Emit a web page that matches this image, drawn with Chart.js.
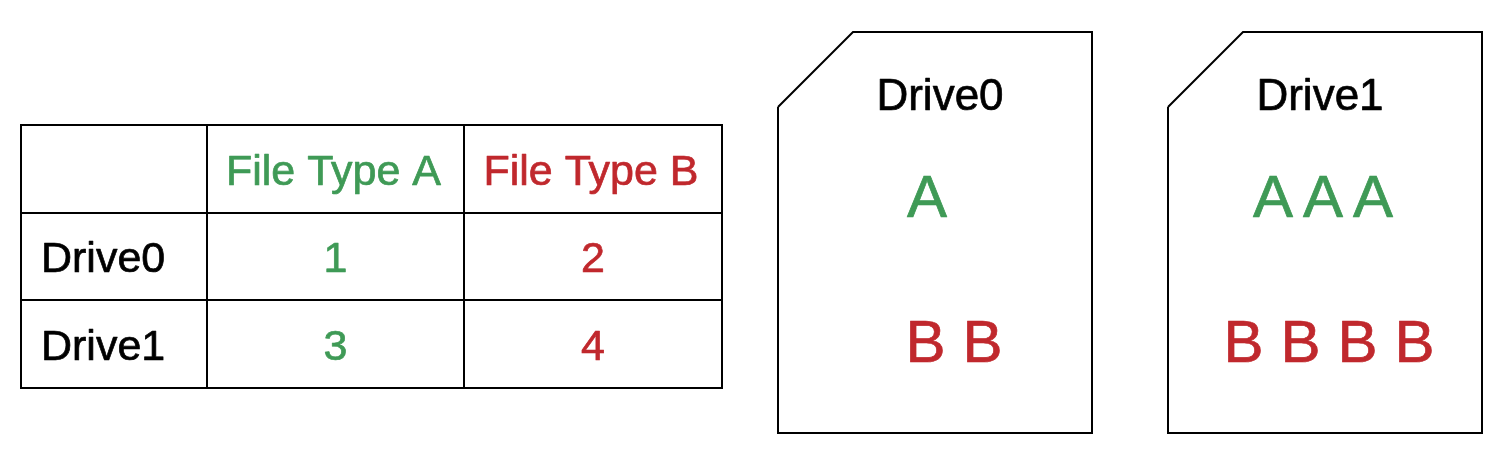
<!DOCTYPE html>
<html>
<head>
<meta charset="utf-8">
<script src="https://cdn.jsdelivr.net/npm/chart.js@4"></script>
<style>
  html, body { margin: 0; padding: 0; background: #ffffff; }
  #wrap { width: 1504px; height: 452px; }
</style>
</head>
<body>
<div id="wrap"><canvas id="diagram" width="1504" height="452"></canvas></div>
<script>
// --- data ---
const drives = ['Drive0', 'Drive1'];
const fileTypes = ['File Type A', 'File Type B'];
const typeLetters = ['A', 'B'];
const countA = [1, 3];
const countB = [2, 4];

const GREEN = '#3f9a56';
const RED = '#c0282d';
const typeColors = [GREEN, RED];
const FONT = '"Liberation Sans", Arial, Helvetica, sans-serif';

// --- layout (page units = pixels, through the chart scales) ---
const tableCols = [21, 207, 464, 722];
const tableRows = [125, 213, 300, 388];
const driveBoxes = [
    { left: 778, right: 1092, top: 32, bottom: 433, cut: 75, letterX: [927, 954] },
    { left: 1168, right: 1482, top: 32, bottom: 433, cut: 75, letterX: [1323, 1329] }
];
const letterRowY = [217, 362];   // baselines of the A row and the B row
const letterPitch = [50, 57];

// outline of each drive (card shape with the top-left corner cut)
function driveOutline(b) {
    return [
        { x: b.left, y: b.top + b.cut },
        { x: b.left + b.cut, y: b.top },
        { x: b.right, y: b.top },
        { x: b.right, y: b.bottom },
        { x: b.left, y: b.bottom },
        { x: b.left, y: b.top + b.cut }
    ];
}

const datasets = driveBoxes.map((b, i) => ({
    label: drives[i],
    type: 'line',
    data: driveOutline(b),
    borderColor: '#000000',
    borderWidth: 2,
    pointRadius: 0,
    fill: false,
    tension: 0
}));

// text slightly heavier, like the original rendering
function heavyText(ctx, txt, x, y, color) {
    ctx.fillStyle = color;
    ctx.strokeStyle = color;
    ctx.lineWidth = 0.7;
    ctx.fillText(txt, x, y);
    ctx.strokeText(txt, x, y);
}

// table + letters drawn with the scales
const diagramPlugin = {
    id: 'diagram',
    afterDatasetsDraw(chart) {
        const ctx = chart.ctx;
        const sx = chart.scales.x, sy = chart.scales.y;
        const px = v => sx.getPixelForValue(v);
        const py = v => sy.getPixelForValue(v);
        ctx.save();

        // grid of the table
        ctx.strokeStyle = '#000000';
        ctx.lineWidth = 2;
        ctx.beginPath();
        tableCols.forEach(c => {
            ctx.moveTo(px(c), py(tableRows[0]) - 1);
            ctx.lineTo(px(c), py(tableRows[tableRows.length - 1]) + 1);
        });
        tableRows.forEach(r => {
            ctx.moveTo(px(tableCols[0]) - 1, py(r));
            ctx.lineTo(px(tableCols[tableCols.length - 1]) + 1, py(r));
        });
        ctx.stroke();

        // text in the table
        ctx.font = '43px ' + FONT;
        ctx.textBaseline = 'alphabetic';
        ctx.lineJoin = 'round';
        const capHalf = 15.5;
        const rowMid = i => (tableRows[i] + tableRows[i + 1]) / 2;
        const colMid = i => (tableCols[i] + tableCols[i + 1]) / 2;

        ctx.textAlign = 'center';
        fileTypes.forEach((t, j) => {
            heavyText(ctx, t, px(colMid(j + 1) - 2), py(rowMid(0) + capHalf), typeColors[j]);
        });
        drives.forEach((d, i) => {
            ctx.textAlign = 'left';
            heavyText(ctx, d, px(tableCols[0] + 20), py(rowMid(i + 1) + capHalf), '#000000');
            ctx.textAlign = 'center';
            [countA[i], countB[i]].forEach((v, j) => {
                heavyText(ctx, String(v), px(colMid(j + 1)), py(rowMid(i + 1) + capHalf), typeColors[j]);
            });
        });

        // drive titles and one letter per file
        driveBoxes.forEach((b, i) => {
            ctx.font = '44px ' + FONT;
            ctx.textAlign = 'center';
            heavyText(ctx, drives[i], px((b.left + b.right) / 2 + 5 - 10 * i), py(110), '#000000');

            ctx.font = '60px ' + FONT;
            [countA[i], countB[i]].forEach((n, j) => {
                for (let k = 0; k < n; k++) {
                    const cx = b.letterX[j] + (k - (n - 1) / 2) * letterPitch[j];
                    heavyText(ctx, typeLetters[j], px(cx), py(letterRowY[j]), typeColors[j]);
                }
            });
        });

        ctx.restore();
    }
};

new Chart(document.getElementById('diagram').getContext('2d'), {
    type: 'scatter',
    data: { datasets: datasets },
    options: {
        responsive: false,
        animation: false,
        layout: { padding: 0 },
        plugins: { legend: { display: false }, tooltip: { enabled: false } },
        scales: {
            x: { type: 'linear', min: 0, max: 1504, display: false },
            y: { type: 'linear', min: 0, max: 452, reverse: true, display: false }
        }
    },
    plugins: [diagramPlugin]
});
</script>
</body>
</html>
